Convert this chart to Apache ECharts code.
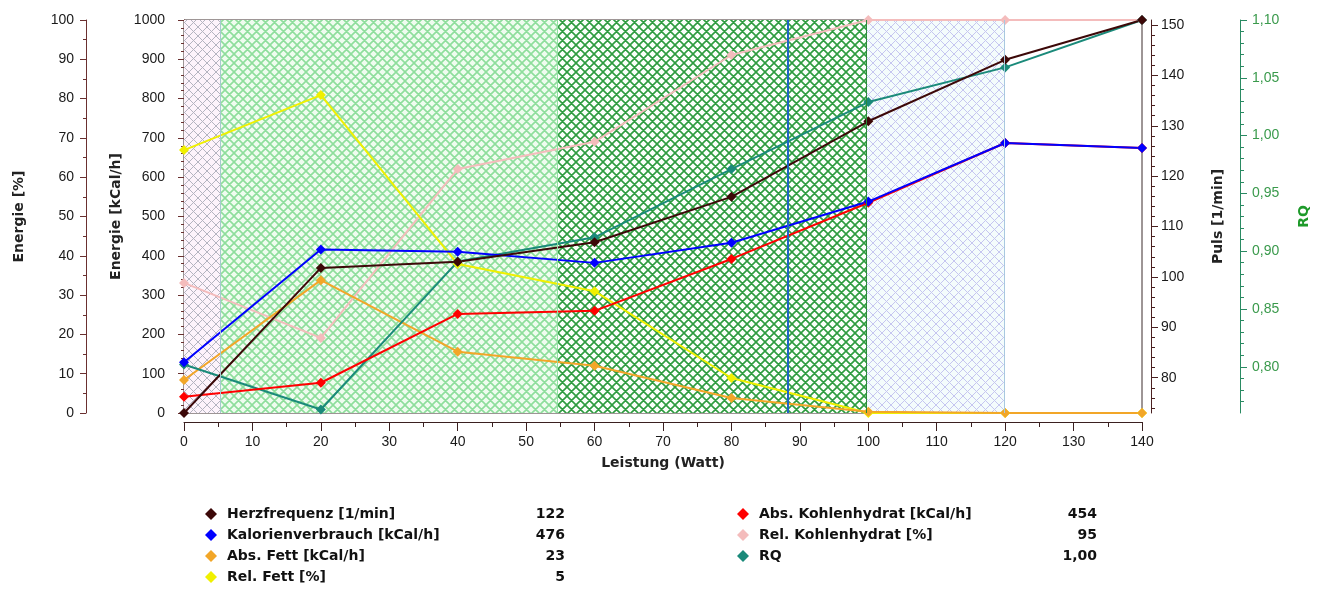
<!DOCTYPE html>
<html>
<head>
<meta charset="utf-8">
<script src="https://cdn.jsdelivr.net/npm/echarts@6/dist/echarts.min.js"></script>
<style>html,body{margin:0;padding:0;background:#fff;}#c{width:1326px;height:590px;}</style>
</head>
<body>
<div id="c"></div>
<script>
// ---- data ----
const watt = [0, 20, 40, 60, 80, 100, 120, 140];
const herzfrequenz = [73, 101.8, 103.0, 106.9, 115.9, 130.9, 143.1, 151];
const kalorien = [129, 416, 410, 382, 433, 538, 687, 674];
const absFett = [84, 338, 156, 120, 38, 3, 0, 0];
const relFett = [66.9, 80.9, 37.9, 31.0, 8.9, 0, 0, 0];
const absKH = [41.5, 77, 252, 260, 392, 535, 687, 674];
const relKH = [33.1, 19.1, 62.1, 69.0, 91.1, 100, 100, 100];
const rq = [0.802, 0.763, 0.891, 0.912, 0.971, 1.029, 1.059, 1.100];

const zoneBounds = [0, 5.3, 54.5, 99.7, 119.9];   // watt boundaries of shaded zones
const cursorWatt = 88.2;

const pulsLabels = [80, 90, 100, 110, 120, 130, 140, 150];
const pulsMinorTicks = [74,76,78,80,82,84,86,88,90,92,94,96,98,100,102,104,106,108,110,112,114,116,118,120,122,124,126,128,130,132,134,136,138,140,142,144,146,148,150];
const rqLabels = [0.80, 0.85, 0.90, 0.95, 1.00, 1.05, 1.10];
const rqMinorTicks = [0.77,0.78,0.79,0.80,0.81,0.82,0.83,0.84,0.85,0.86,0.87,0.88,0.89,0.90,0.91,0.92,0.93,0.94,0.95,0.96,0.97,0.98,0.99,1.00,1.01,1.02,1.03,1.04,1.05,1.06,1.07,1.08,1.09,1.10];

const legendLeftNames = ['Herzfrequenz [1/min]', 'Kalorienverbrauch [kCal/h]', 'Abs. Fett [kCal/h]', 'Rel. Fett [%]'];
const legendLeftValues = ['122', '476', '23', '5'];
const legendRightNames = ['Abs. Kohlenhydrat [kCal/h]', 'Rel. Kohlenhydrat [%]', 'RQ'];
const legendRightValues = ['454', '95', '1,00'];

// ---- styles ----
function hatch(bg, line, lw, s) {
  const cv = document.createElement('canvas');
  cv.width = s; cv.height = s;
  const ctx = cv.getContext('2d');
  ctx.fillStyle = bg; ctx.fillRect(0, 0, s, s);
  ctx.strokeStyle = line; ctx.lineWidth = lw;
  ctx.beginPath();
  [-s, 0, s].forEach(c => { ctx.moveTo(c - 2, -2); ctx.lineTo(c + s + 2, s + 2); });
  [0, s, 2 * s].forEach(c => { ctx.moveTo(c + 2, -2); ctx.lineTo(c - s - 2, s + 2); });
  ctx.stroke();
  return { image: cv, repeat: 'repeat' };
}
const zoneFills = [
  hatch('#fdf3fb', '#b4b4c0', 1.0, 9),
  hatch('#effcef', '#8ede9c', 1.6, 9),
  hatch('#fafffa', '#2e9c40', 1.6, 9),
  hatch('#f4fcfc', '#c6c6f0', 1.0, 9)
];
const zoneEdges = ['#a8c8d0', '#90e0a0', '#2a8a3a', '#a8c8e0'];

const numFont = 'Liberation Sans';
const boldFont = 'DejaVu Sans';

function pairs(names, vals) { const m = {}; names.forEach((n, i) => m[n] = vals[i]); return m; }
const lv = Object.assign(pairs(legendLeftNames, legendLeftValues), pairs(legendRightNames, legendRightValues));

function zip(ys) { return watt.map((x, i) => [x, ys[i]]); }

const markAreaData = [];
for (let i = 0; i < zoneBounds.length - 1; i++) {
  markAreaData.push([{ xAxis: zoneBounds[i], itemStyle: { color: zoneFills[i] } }, { xAxis: zoneBounds[i + 1] }]);
}
const markLineData = [];
for (let i = 1; i < zoneBounds.length; i++) {
  markLineData.push({ xAxis: zoneBounds[i], lineStyle: { color: zoneEdges[i - 1], width: 1, type: 'solid' } });
}
markLineData.push({ xAxis: cursorWatt, lineStyle: { color: '#1e64c8', width: 2, type: 'solid' } });

function mkSeries(name, ys, color, yIdx, extra) {
  return Object.assign({
    name: name, type: 'line', data: zip(ys), yAxisIndex: yIdx,
    symbol: 'diamond', symbolSize: 10, showSymbol: true,
    lineStyle: { color: color, width: 2 }, itemStyle: { color: color },
    emphasis: { disabled: true }, z: 3
  }, extra || {});
}

const legendText = {
  fontFamily: boldFont, fontWeight: 'bold', fontSize: 14, color: '#111',
  padding: [0, 0, 0, 5],
  rich: {
    n: { fontFamily: boldFont, fontWeight: 'bold', fontSize: 14, color: '#111', width: 298 },
    v: { fontFamily: boldFont, fontWeight: 'bold', fontSize: 14, color: '#111', width: 40, align: 'right' }
  }
};
const legendFmt = name => '{n|' + name + '}{v|' + lv[name] + '}';

const axisNameStyle = { fontFamily: boldFont, fontWeight: 'bold', fontSize: 14, color: '#222' };
const numLabel = { fontFamily: numFont, fontSize: 14, color: '#1a1a1a' };
const plainNum = v => String(v);

const option = {
  animation: false,
  backgroundColor: '#fff',
  grid: { left: 184, right: 184, top: 20, bottom: 177, show: true, borderColor: '#3c2c2c', borderWidth: 1, backgroundColor: '#fff' },
  xAxis: {
    type: 'value', min: 0, max: 140, interval: 10, offset: 9,
    axisLine: { show: true, onZero: false, lineStyle: { color: '#3a2020', width: 1 } },
    axisTick: { show: true, inside: false, length: 9, lineStyle: { color: '#3a2020' } },
    minorTick: { show: true, splitNumber: 2, length: 5, lineStyle: { color: '#3a2020' } },
    axisLabel: Object.assign({ margin: 13, formatter: plainNum }, numLabel),
    splitLine: { show: false },
    name: 'Leistung (Watt)', nameLocation: 'middle', nameGap: 34, nameTextStyle: axisNameStyle
  },
  yAxis: [
    { // 0 kcal
      type: 'value', position: 'left', offset: 9, min: 0, max: 1000, interval: 100,
      axisLine: { show: true, lineStyle: { color: '#6a3030' } },
      axisTick: { show: true, length: 6, lineStyle: { color: '#6a3030' } },
      minorTick: { show: true, splitNumber: 5, length: 3, lineStyle: { color: '#6a3030' } },
      axisLabel: Object.assign({ margin: 10, formatter: plainNum }, numLabel),
      splitLine: { show: false },
      name: 'Energie [kCal/h]', nameLocation: 'middle', nameRotate: 90, nameGap: 52, nameTextStyle: axisNameStyle
    },
    { // 1 percent
      type: 'value', position: 'left', offset: 98, min: 0, max: 100, interval: 10,
      axisLine: { show: true, lineStyle: { color: '#6a3030' } },
      axisTick: { show: true, length: 6, lineStyle: { color: '#6a3030' } },
      minorTick: { show: true, splitNumber: 2, length: 3, lineStyle: { color: '#6a3030' } },
      axisLabel: Object.assign({ margin: 12, formatter: plainNum }, numLabel),
      splitLine: { show: false },
      name: 'Energie [%]', nameLocation: 'middle', nameRotate: 90, nameGap: 60, nameTextStyle: axisNameStyle
    },
    { // 2 puls
      type: 'value', position: 'right', offset: 9, min: 73, max: 151,
      axisLine: { show: true, lineStyle: { color: '#4a2020' } },
      axisTick: { show: true, length: 7, customValues: pulsLabels, lineStyle: { color: '#4a2020' } },
      axisLabel: Object.assign({ margin: 10, customValues: pulsLabels, formatter: plainNum }, numLabel),
      splitLine: { show: false },
      name: 'Puls [1/min]', nameLocation: 'middle', nameRotate: 90, nameGap: 60, nameTextStyle: axisNameStyle
    },
    { // 3 rq
      type: 'value', position: 'right', offset: 98, min: 0.76, max: 1.10,
      axisLine: { show: true, lineStyle: { color: '#2a8a62' } },
      axisTick: { show: true, length: 7, customValues: rqLabels, lineStyle: { color: '#2a8a62' } },
      axisLabel: Object.assign({}, numLabel, { margin: 12, color: '#3a9a4c', customValues: rqLabels,
        formatter: v => v.toFixed(2).replace('.', ',') }),
      splitLine: { show: false },
      name: 'RQ', nameLocation: 'middle', nameRotate: 90, nameGap: 57,
      nameTextStyle: Object.assign({}, axisNameStyle, { color: '#1e9a2a' })
    },
    { // 4 puls minor ticks
      type: 'value', position: 'right', offset: 9, min: 73, max: 151,
      axisLine: { show: false },
      axisTick: { show: true, length: 4, customValues: pulsMinorTicks, lineStyle: { color: '#4a2020' } },
      axisLabel: { show: false }, splitLine: { show: false }
    },
    { // 5 rq minor ticks
      type: 'value', position: 'right', offset: 98, min: 0.76, max: 1.10,
      axisLine: { show: false },
      axisTick: { show: true, length: 4, customValues: rqMinorTicks, lineStyle: { color: '#2a8a62' } },
      axisLabel: { show: false }, splitLine: { show: false }
    }
  ],
  legend: [
    {
      orient: 'vertical', left: 200, top: 502, itemGap: 7, itemWidth: 12, itemHeight: 12,
      icon: 'diamond', data: legendLeftNames, textStyle: legendText, formatter: legendFmt,
      selectedMode: false
    },
    {
      orient: 'vertical', left: 732, top: 502, itemGap: 7, itemWidth: 12, itemHeight: 12,
      icon: 'diamond', data: legendRightNames, textStyle: legendText, formatter: legendFmt,
      selectedMode: false
    }
  ],
  series: [
    mkSeries('Rel. Kohlenhydrat [%]', relKH, '#f4bcbc', 1, {
      markArea: { silent: true, data: markAreaData, itemStyle: { borderWidth: 0 } },
      markLine: { silent: true, symbol: ['none', 'none'], label: { show: false }, data: markLineData }
    }),
    mkSeries('Rel. Fett [%]', relFett, '#f0f000', 1),
    mkSeries('Abs. Fett [kCal/h]', absFett, '#f2a628', 0),
    mkSeries('RQ', rq, '#1a8a7a', 3),
    mkSeries('Abs. Kohlenhydrat [kCal/h]', absKH, '#ff0000', 0),
    mkSeries('Kalorienverbrauch [kCal/h]', kalorien, '#0000ff', 0),
    mkSeries('Herzfrequenz [1/min]', herzfrequenz, '#3c0808', 2)
  ]
};

const chart = echarts.init(document.getElementById('c'), null, { renderer: 'canvas' });
chart.setOption(option);
</script>
</body>
</html>
